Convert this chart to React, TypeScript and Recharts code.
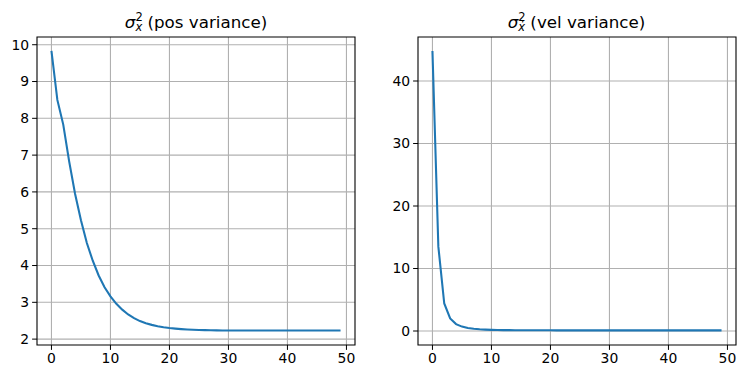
import React from 'react'
import { LineChart, Line, XAxis, YAxis, CartesianGrid, ReferenceArea } from 'recharts'

// time steps 0..49
const steps = Array.from({ length: 50 }, (_, i) => i)

// position variance
const posVariance = [
  9.83, 8.5, 7.83, 6.83, 5.95, 5.23, 4.61, 4.13, 3.73, 3.41,
  3.16, 2.96, 2.8, 2.67, 2.57, 2.49, 2.43, 2.387, 2.35, 2.322,
  2.3, 2.285, 2.272, 2.262, 2.254, 2.248, 2.244, 2.241, 2.238, 2.236,
  2.235, 2.234, 2.233, 2.232, 2.232, 2.232, 2.232, 2.232, 2.232, 2.232,
  2.232, 2.232, 2.232, 2.232, 2.232, 2.232, 2.232, 2.232, 2.232, 2.232,
]

// velocity variance
const velVariance = [
  44.8, 13.5, 4.4, 2.0, 1.1, 0.7, 0.48, 0.35, 0.27, 0.22,
  0.185, 0.16, 0.145, 0.135, 0.125, 0.12, 0.115, 0.112, 0.11, 0.108,
  0.107, 0.106, 0.105, 0.105, 0.105, 0.105, 0.105, 0.105, 0.105, 0.105,
  0.105, 0.105, 0.105, 0.105, 0.105, 0.105, 0.105, 0.105, 0.105, 0.105,
  0.105, 0.105, 0.105, 0.105, 0.105, 0.105, 0.105, 0.105, 0.105, 0.105,
]

const xTicks = [0, 10, 20, 30, 40, 50]
const posTicks = [2, 3, 4, 5, 6, 7, 8, 9, 10]
const velTicks = [0, 10, 20, 30, 40]

const posData = steps.map((t, i) => ({ t, v: posVariance[i] }))
const velData = steps.map((t, i) => ({ t, v: velVariance[i] }))

const FONT = 'DejaVu Sans, sans-serif'
const tickStyle = { fill: '#000', fontSize: 13.9, fontFamily: FONT }

type PanelProps = {
  data: { t: number; v: number }[]
  yDomain: [number, number]
  yTicks: number[]
}

const xDomain: [number, number] = [-2.45, 51.45]

const Panel: React.FC<PanelProps> = ({ data, yDomain, yTicks }) => (
  <LineChart width={360} height={379} data={data} margin={{ top: 37, right: 5, left: 0, bottom: 0 }}>
    <CartesianGrid stroke="#b0b0b0" strokeWidth={1.1} horizontalValues={yTicks} verticalValues={xTicks} />
    <XAxis
      dataKey="t"
      type="number"
      domain={xDomain}
      ticks={xTicks}
      allowDataOverflow
      height={34}
      tickSize={4.9}
      tickMargin={3}
      tick={tickStyle}
      stroke="#000"
      axisLine={false}
    />
    <YAxis
      type="number"
      domain={yDomain}
      ticks={yTicks}
      allowDataOverflow
      width={37}
      tickSize={4.9}
      tickMargin={3}
      tick={tickStyle}
      stroke="#000"
      axisLine={false}
    />
    <Line dataKey="v" stroke="#1f77b4" strokeWidth={2.08} dot={false} isAnimationActive={false} />
    <ReferenceArea
      x1={xDomain[0]}
      x2={xDomain[1]}
      y1={yDomain[0]}
      y2={yDomain[1]}
      fill="none"
      fillOpacity={0}
      stroke="#000"
      strokeWidth={1.1}
    />
  </LineChart>
)

const Title: React.FC<{ x: number; sub: string; label: string }> = ({ x, sub, label }) => (
  <text x={x} y={28} textAnchor="middle" fontFamily={FONT} fontSize={16.7} fill="#000">
    <tspan fontStyle="italic">σ</tspan>
    <tspan fontSize={11.5} dy={-7}>2</tspan>
    <tspan fontSize={11.5} fontStyle="italic" dx={-7.3} dy={10}>{sub}</tspan>
    <tspan dy={-3}>{' ' + label}</tspan>
  </text>
)

export default function App() {
  return (
    <div style={{ position: 'absolute', left: 0, top: 0, width: 745, height: 379, background: '#fff' }}>
      <div style={{ position: 'absolute', left: 0, top: 0 }}>
        <Panel data={posData} yDomain={[1.84, 10.21]} yTicks={posTicks} />
      </div>
      <div style={{ position: 'absolute', left: 381, top: 0 }}>
        <Panel data={velData} yDomain={[-2.24, 47.04]} yTicks={velTicks} />
      </div>
      <svg width={745} height={379} style={{ position: 'absolute', left: 0, top: 0, pointerEvents: 'none' }}>
        <Title x={196} sub="x" label="(pos variance)" />
        <Title x={576.5} sub="ẋ" label="(vel variance)" />
      </svg>
    </div>
  )
}
